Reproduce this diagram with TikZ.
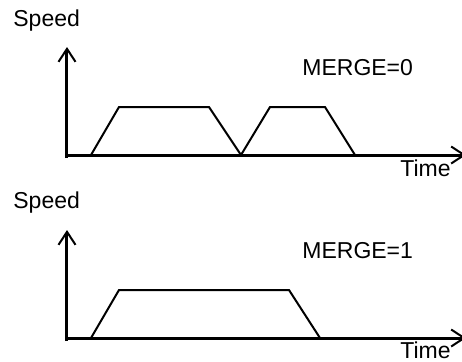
\documentclass[tikz,border=0pt]{standalone}
\usepackage{fontspec}
\setmainfont{Liberation Sans}
\usetikzlibrary{arrows.meta}

\begin{document}
\begin{tikzpicture}[x=0.5pt,y=-0.5pt]

    \tikzstyle{axis} = [line width=1.5pt,
        -{Straight Barb[length=6.5pt,width=8.5pt,line width=1pt]}]

    \tikzstyle{profile} = [line width=1pt, line join=miter]

    \tikzstyle{lbl} = [anchor=base west, inner sep=0pt,
        font=\fontsize{11.5}{14}\selectfont]

    \useasboundingbox (0,0) rectangle (462,361);

    % MERGE=0
    \coordinate (b1) at (67,158);
    \coordinate (o1) at (66,155);
    \coordinate (y1) at (67,47);
    \coordinate (x1) at (466,155);
    \node [lbl] (sp1) at (13,26) {Speed};
    \node [lbl] (mg1) at (302,75) {MERGE=0};
    \node [lbl] (tm1) at (400,176) {Time};

    \draw[axis] (b1) -- (y1);
    \draw[axis] (o1) -- (x1);
    \draw[profile] (91,155) -- (119,107) -- (209,107) -- (241,155)
        -- (270,107) -- (325,107) -- (355,155);

    % MERGE=1
    \coordinate (b2) at (67,341);
    \coordinate (o2) at (66,338);
    \coordinate (y2) at (67,230);
    \coordinate (x2) at (466,338);
    \node [lbl] (sp2) at (13,208) {Speed};
    \node [lbl] (mg2) at (302,258) {MERGE=1};
    \node [lbl] (tm2) at (400,358) {Time};

    \draw[axis] (b2) -- (y2);
    \draw[axis] (o2) -- (x2);
    \draw[profile] (91,338) -- (119,290) -- (289,290) -- (320,338);

\end{tikzpicture}
\end{document}
